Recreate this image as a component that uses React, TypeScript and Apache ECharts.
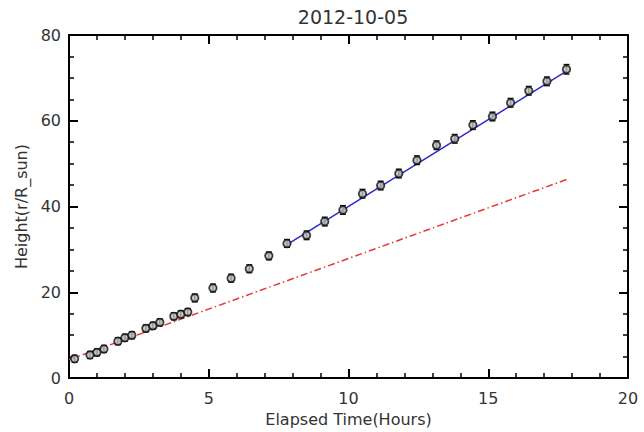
import React, { useEffect, useRef } from "react";
import * as echarts from "echarts";

const titleText = "2012-10-05";
const xAxisName = "Elapsed Time(Hours)";
const yAxisName = "Height(r/R_sun)";

const times = [
  0.2, 0.75, 1.0, 1.25, 1.75, 2.0, 2.25, 2.75, 3.0, 3.25, 3.75, 4.0, 4.25, 4.5,
  5.15, 5.8, 6.45, 7.15, 7.8, 8.5, 9.15, 9.8, 10.5, 11.15, 11.8, 12.45, 13.15,
  13.8, 14.45, 15.15, 15.8, 16.45, 17.1, 17.8,
];
const heights = [
  4.5, 5.4, 6.0, 6.8, 8.6, 9.4, 10.0, 11.6, 12.2, 13.0, 14.4, 14.9, 15.4, 18.7,
  21.0, 23.3, 25.5, 28.5, 31.4, 33.3, 36.5, 39.2, 43.0, 44.9, 47.7, 50.8, 54.3,
  55.8, 59.0, 61.0, 64.2, 67.0, 69.2, 72.0,
];
const errors = [
  0.8, 0.8, 0.8, 0.8, 0.8, 0.8, 0.8, 0.8, 0.8, 0.8, 0.8, 0.8, 0.8, 0.9, 0.9,
  0.9, 0.9, 0.9, 0.9, 1.0, 1.0, 1.0, 1.0, 1.0, 1.0, 1.0, 1.0, 1.0, 1.0, 1.0,
  1.0, 1.0, 1.0, 1.1,
];
const blueFitX = [7.8, 17.8];
const blueFitY = [31.1, 71.6];
const redFitX = [0, 17.8];
const redFitY = [4.3, 46.3];

const FONT = "DejaVu Sans";
const TEXT = "#333";

export default function App() {
  const ref = useRef<HTMLDivElement>(null);
  useEffect(() => {
    if (!ref.current) return;
    const chart = echarts.init(ref.current, null, { renderer: "svg" });
    const pts = times.map((t, i) => [t, heights[i]]);
    const errData = times.map((t, i) => [t, heights[i], errors[i]]);
    const axisCommon = {
      axisLine: { show: true, onZero: false, lineStyle: { color: "#000", width: 2 } },
      axisTick: { show: true, inside: true, length: 9, lineStyle: { color: "#000", width: 2 } },
      minorTick: { show: true, length: 5, lineStyle: { color: "#000", width: 1.5 } },
      splitLine: { show: false },
    };
    chart.setOption({
      animation: false,
      backgroundColor: "#fff",
      title: {
        text: titleText,
        left: 348,
        textAlign: "center",
        top: 2,
        textStyle: { fontFamily: FONT, fontSize: 19, fontWeight: "normal", color: TEXT },
      },
      grid: { left: 69, right: 16, top: 35, bottom: 49 },
      xAxis: [
        {
          type: "value",
          min: 0,
          max: 20,
          interval: 5,
          minorTick: { ...axisCommon.minorTick, splitNumber: 5 },
          axisLine: axisCommon.axisLine,
          axisTick: axisCommon.axisTick,
          splitLine: axisCommon.splitLine,
          axisLabel: { fontFamily: FONT, fontSize: 16, color: TEXT, margin: 12 },
          name: xAxisName,
          nameLocation: "middle",
          nameGap: 29,
          nameTextStyle: { fontFamily: FONT, fontSize: 16, color: TEXT },
        },
        {
          type: "value",
          position: "top",
          min: 0,
          max: 20,
          interval: 5,
          minorTick: { ...axisCommon.minorTick, splitNumber: 5 },
          axisLine: axisCommon.axisLine,
          axisTick: axisCommon.axisTick,
          splitLine: axisCommon.splitLine,
          axisLabel: { show: false },
        },
      ],
      yAxis: [
        {
          type: "value",
          min: 0,
          max: 80,
          interval: 20,
          minorTick: { ...axisCommon.minorTick, splitNumber: 4 },
          axisLine: axisCommon.axisLine,
          axisTick: axisCommon.axisTick,
          splitLine: axisCommon.splitLine,
          axisLabel: { fontFamily: FONT, fontSize: 16, color: TEXT, margin: 8 },
          name: yAxisName,
          nameLocation: "middle",
          nameGap: 39,
          nameTextStyle: { fontFamily: FONT, fontSize: 16, color: TEXT },
        },
        {
          type: "value",
          position: "right",
          min: 0,
          max: 80,
          interval: 20,
          minorTick: { ...axisCommon.minorTick, splitNumber: 4 },
          axisLine: axisCommon.axisLine,
          axisTick: axisCommon.axisTick,
          splitLine: axisCommon.splitLine,
          axisLabel: { show: false },
        },
      ],
      series: [
        {
          type: "line",
          data: redFitX.map((x, i) => [x, redFitY[i]]),
          symbol: "none",
          lineStyle: { color: "#e03a3a", width: 1.5, type: [7, 3, 1.5, 3] },
          z: 2,
        },
        {
          type: "line",
          data: blueFitX.map((x, i) => [x, blueFitY[i]]),
          symbol: "none",
          lineStyle: { color: "#2a2ad0", width: 1.5 },
          z: 2,
        },
        {
          type: "custom",
          data: errData,
          z: 3,
          renderItem: (params: any, api: any) => {
            const x = api.value(0);
            const y = api.value(1);
            const e = api.value(2);
            const lo = api.coord([x, y - e]);
            const hi = api.coord([x, y + e]);
            const w = 3;
            const st = { stroke: "#111", lineWidth: 1.5 };
            return {
              type: "group",
              children: [
                { type: "line", shape: { x1: lo[0], y1: lo[1], x2: hi[0], y2: hi[1] }, style: st },
                { type: "line", shape: { x1: lo[0] - w, y1: lo[1], x2: lo[0] + w, y2: lo[1] }, style: st },
                { type: "line", shape: { x1: hi[0] - w, y1: hi[1], x2: hi[0] + w, y2: hi[1] }, style: st },
              ],
            };
          },
        },
        {
          type: "scatter",
          data: pts,
          symbol: "circle",
          symbolSize: 7.5,
          itemStyle: { color: "#bbb", borderColor: "#111", borderWidth: 1.8 },
          z: 4,
        },
      ],
    });
    return () => chart.dispose();
  }, []);
  return <div ref={ref} style={{ width: 644, height: 432, position: "absolute", left: 0, top: 0 }} />;
}
